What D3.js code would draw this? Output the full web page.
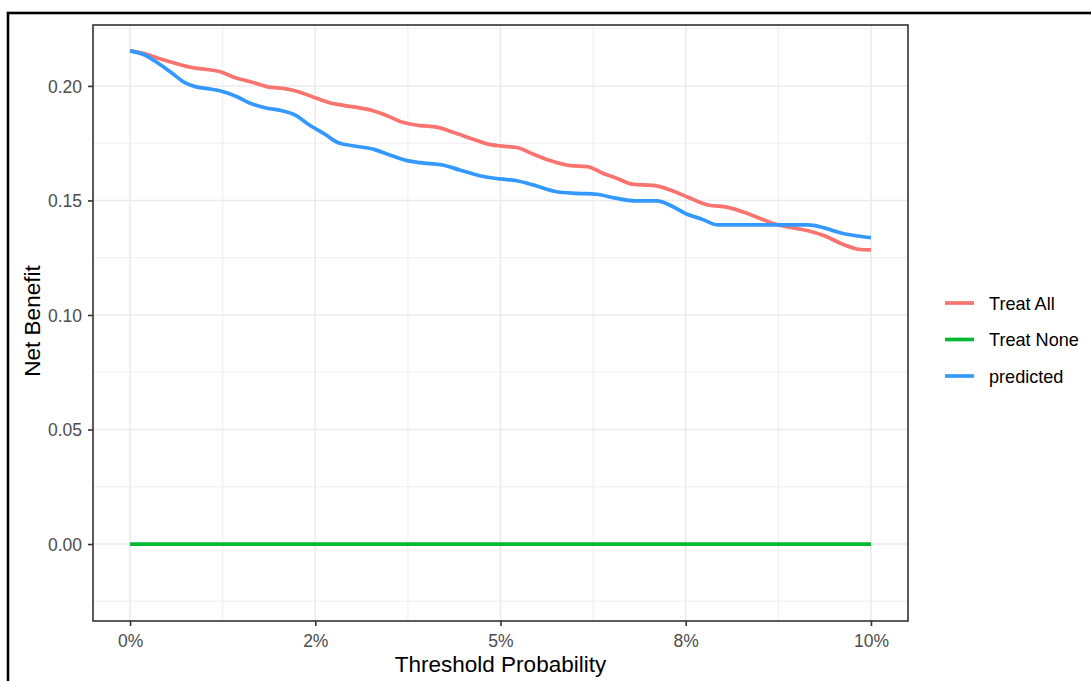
<!DOCTYPE html>
<html>
<head>
<meta charset="utf-8">
<script src="https://cdn.jsdelivr.net/npm/d3@7"></script>
<style>
  html, body { margin: 0; padding: 0; background: #fff; }
  svg { display: block; font-family: "Liberation Sans", Arial, sans-serif; }
</style>
</head>
<body>
<svg id="chart" width="1091" height="681"></svg>
<script>
// ---- data ----
const seriesNames = ["Treat All", "Treat None", "predicted"];
const seriesColors = ["#F9746E", "#00B832", "#3399FF"];

const treatAllX = [0, 0.0020, 0.0038, 0.0061, 0.0084, 0.0101, 0.0122, 0.0142, 0.0165, 0.0186,
  0.0209, 0.0227, 0.0246, 0.0267, 0.0290, 0.0308, 0.0328, 0.0347, 0.0368, 0.0391, 0.0414,
  0.0436, 0.0459, 0.0482, 0.0499, 0.0522, 0.0544, 0.0567, 0.0594, 0.0617, 0.0638, 0.0659,
  0.0678, 0.0709, 0.0731, 0.0753, 0.0780, 0.0807, 0.0830, 0.0853, 0.0875, 0.0897, 0.0915,
  0.0938, 0.0961, 0.0983, 0.1000];
const treatAllY = [0.2153, 0.2140, 0.2121, 0.2099, 0.2080, 0.2073, 0.2062, 0.2036, 0.2016, 0.1996,
  0.1988, 0.1975, 0.1953, 0.1929, 0.1914, 0.1905, 0.1892, 0.1870, 0.1841, 0.1827, 0.1820,
  0.1798, 0.1772, 0.1747, 0.1738, 0.1731, 0.1703, 0.1674, 0.1652, 0.1648, 0.1619, 0.1594,
  0.1571, 0.1565, 0.1543, 0.1514, 0.1480, 0.1470, 0.1447, 0.1418, 0.1393, 0.1379, 0.1368,
  0.1345, 0.1310, 0.1287, 0.1284];

const treatNoneX = [0, 0.1000];
const treatNoneY = [0, 0];

const predictedX = [0, 0.0020, 0.0038, 0.0057, 0.0074, 0.0088, 0.0105, 0.0121, 0.0142, 0.0165,
  0.0182, 0.0205, 0.0223, 0.0240, 0.0263, 0.0281, 0.0300, 0.0328, 0.0347, 0.0374, 0.0391,
  0.0422, 0.0445, 0.0472, 0.0499, 0.0522, 0.0544, 0.0576, 0.0603, 0.0630, 0.0655, 0.0682,
  0.0711, 0.0731, 0.0749, 0.0772, 0.0794, 0.0834, 0.0874, 0.0915, 0.0938, 0.0961, 0.0982,
  0.1000];
const predictedY = [0.2153, 0.2135, 0.2099, 0.2055, 0.2014, 0.1997, 0.1988, 0.1979, 0.1956, 0.1921,
  0.1905, 0.1892, 0.1873, 0.1834, 0.1789, 0.1752, 0.1739, 0.1724, 0.1703, 0.1674, 0.1665,
  0.1655, 0.1633, 0.1608, 0.1594, 0.1586, 0.1568, 0.1538, 0.1531, 0.1527, 0.1510, 0.1498,
  0.1498, 0.1476, 0.1444, 0.1418, 0.1393, 0.1393, 0.1393, 0.1393, 0.1379, 0.1357, 0.1345,
  0.1338];

const xTicks = [0, 0.025, 0.05, 0.075, 0.1];
const xTickLabels = ["0%", "2%", "5%", "8%", "10%"];
const xMinor = [0.0125, 0.0375, 0.0625, 0.0875];
const yTicks = [0, 0.05, 0.10, 0.15, 0.20];
const yTickLabels = ["0.00", "0.05", "0.10", "0.15", "0.20"];
const yMinor = [-0.025, 0.025, 0.075, 0.125, 0.175, 0.225];
const xTitle = "Threshold Probability";
const yTitle = "Net Benefit";

// ---- layout ----
const svg = d3.select("#chart");
const panel = { left: 93, top: 25, width: 815, height: 596 };

const x = d3.scaleLinear().domain([-0.005, 0.105]).range([panel.left, panel.left + panel.width]);
const y = d3.scaleLinear().domain([-0.0336, 0.2266]).range([panel.top + panel.height, panel.top]);

// outer frame
svg.append("rect").attr("x", 8).attr("y", 13).attr("width", 1100).attr("height", 700)
  .attr("fill", "none").attr("stroke", "#000").attr("stroke-width", 2.6);

const g = svg.append("g");
const clipId = "panelClip";
svg.append("defs").append("clipPath").attr("id", clipId).append("rect")
  .attr("x", panel.left).attr("y", panel.top).attr("width", panel.width).attr("height", panel.height);

const grid = g.append("g").attr("clip-path", `url(#${clipId})`);
// minor grid
grid.selectAll(".xminor").data(xMinor).join("line")
  .attr("x1", d => x(d)).attr("x2", d => x(d)).attr("y1", panel.top).attr("y2", panel.top + panel.height)
  .attr("stroke", "#EFEFEF").attr("stroke-width", 1.1);
grid.selectAll(".yminor").data(yMinor).join("line")
  .attr("y1", d => y(d)).attr("y2", d => y(d)).attr("x1", panel.left).attr("x2", panel.left + panel.width)
  .attr("stroke", "#EFEFEF").attr("stroke-width", 1.1);
// major grid
grid.selectAll(".xmajor").data(xTicks).join("line")
  .attr("x1", d => x(d)).attr("x2", d => x(d)).attr("y1", panel.top).attr("y2", panel.top + panel.height)
  .attr("stroke", "#EBEBEB").attr("stroke-width", 1.6);
grid.selectAll(".ymajor").data(yTicks).join("line")
  .attr("y1", d => y(d)).attr("y2", d => y(d)).attr("x1", panel.left).attr("x2", panel.left + panel.width)
  .attr("stroke", "#EBEBEB").attr("stroke-width", 1.6);

// series
const series = [
  { name: seriesNames[0], color: seriesColors[0], xs: treatAllX, ys: treatAllY },
  { name: seriesNames[1], color: seriesColors[1], xs: treatNoneX, ys: treatNoneY },
  { name: seriesNames[2], color: seriesColors[2], xs: predictedX, ys: predictedY }
];
const line = d3.line().x(d => x(d[0])).y(d => y(d[1])).curve(d3.curveMonotoneX);
const lines = g.append("g").attr("clip-path", `url(#${clipId})`);
series.forEach(s => {
  lines.append("path")
    .datum(s.xs.map((v, i) => [v, s.ys[i]]))
    .attr("d", line)
    .attr("fill", "none")
    .attr("stroke", s.color)
    .attr("stroke-width", 3.7)
    .attr("stroke-linejoin", "round")
    .attr("stroke-linecap", "butt");
});

// panel border
g.append("rect").attr("x", panel.left).attr("y", panel.top)
  .attr("width", panel.width).attr("height", panel.height)
  .attr("fill", "none").attr("stroke", "#333333").attr("stroke-width", 1.6);

// axes
const xAxis = d3.axisBottom(x).tickValues(xTicks).tickFormat((d, i) => xTickLabels[i])
  .tickSize(5).tickPadding(4);
const yAxis = d3.axisLeft(y).tickValues(yTicks).tickFormat((d, i) => yTickLabels[i])
  .tickSize(5).tickPadding(6);

const gx = g.append("g").attr("transform", `translate(0,${panel.top + panel.height})`).call(xAxis);
const gy = g.append("g").attr("transform", `translate(${panel.left},0)`).call(yAxis);
[gx, gy].forEach(a => {
  a.select(".domain").remove();
  a.selectAll(".tick line").attr("stroke", "#333333").attr("stroke-width", 1.6);
  a.selectAll(".tick text").attr("fill", "#4D4D4D")
    .style("font-size", "17.5px").style("font-family", "'Liberation Sans', Arial, sans-serif");
});
gx.selectAll(".tick text").attr("dy", "0.95em");
gy.selectAll(".tick text").attr("dy", "0.36em");

// axis titles
svg.append("text").attr("x", panel.left + panel.width / 2).attr("y", 672)
  .attr("text-anchor", "middle").attr("fill", "#000").style("font-size", "22.5px")
  .text(xTitle);
svg.append("text").attr("transform", `translate(40,${panel.top + panel.height / 2 - 2}) rotate(-90)`)
  .attr("text-anchor", "middle").attr("fill", "#000").style("font-size", "22.5px")
  .text(yTitle);

// legend
const legend = svg.append("g");
const legendY0 = 303, legendStep = 36.5;
series.forEach((s, i) => {
  const ly = legendY0 + i * legendStep;
  legend.append("line").attr("x1", 945).attr("x2", 974).attr("y1", ly).attr("y2", ly)
    .attr("stroke", s.color).attr("stroke-width", 3.7);
  legend.append("text").attr("x", 989).attr("y", ly).attr("dy", "0.36em")
    .attr("fill", "#000").style("font-size", "18.1px").text(s.name);
});
</script>
</body>
</html>
